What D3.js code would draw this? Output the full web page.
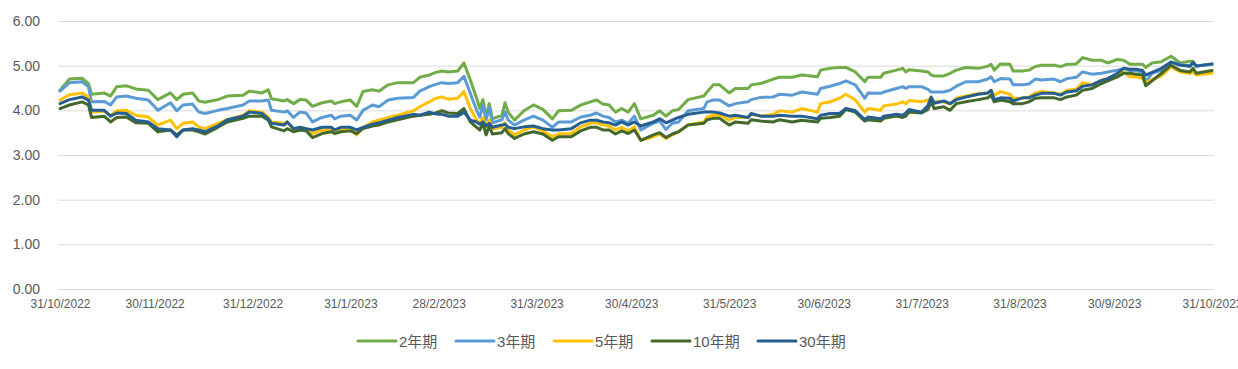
<!DOCTYPE html>
<html>
<head>
<meta charset="utf-8">
<script src="https://cdn.jsdelivr.net/npm/d3@7"></script>
<style>
  body { margin: 0; background: #fff; }
  text { font-family: "Liberation Sans", "Noto Sans CJK TC", sans-serif; fill: #595959; }
</style>
</head>
<body>
<div id="chart"></div>
<script>
// sample dates
var dates = [
  "2022-10-31","2022-11-03","2022-11-07","2022-11-09","2022-11-10","2022-11-14","2022-11-16","2022-11-18","2022-11-21","2022-11-24",
  "2022-11-28","2022-12-01","2022-12-05","2022-12-07","2022-12-09","2022-12-12","2022-12-14","2022-12-16","2022-12-20","2022-12-23",
  "2022-12-28","2022-12-30","2023-01-03","2023-01-05","2023-01-06","2023-01-10","2023-01-11","2023-01-13","2023-01-15","2023-01-17",
  "2023-01-19","2023-01-22","2023-01-25","2023-01-26","2023-01-28","2023-01-31","2023-02-02","2023-02-04","2023-02-07","2023-02-09",
  "2023-02-12","2023-02-15","2023-02-20","2023-02-22","2023-02-25","2023-02-27","2023-03-01","2023-03-03","2023-03-06","2023-03-08",
  "2023-03-10","2023-03-12","2023-03-13","2023-03-14","2023-03-15","2023-03-16","2023-03-17","2023-03-20","2023-03-21","2023-03-22",
  "2023-03-24","2023-03-27","2023-03-30","2023-04-02","2023-04-05","2023-04-07","2023-04-11","2023-04-14","2023-04-17","2023-04-19",
  "2023-04-21","2023-04-23","2023-04-25","2023-04-27","2023-04-29","2023-05-01","2023-05-03","2023-05-07","2023-05-09","2023-05-11",
  "2023-05-13","2023-05-15","2023-05-18","2023-05-23","2023-05-24","2023-05-26","2023-05-28","2023-05-31","2023-06-02","2023-06-06",
  "2023-06-07","2023-06-10","2023-06-14","2023-06-16","2023-06-20","2023-06-23","2023-06-28","2023-06-29","2023-07-02","2023-07-05",
  "2023-07-07","2023-07-10","2023-07-13","2023-07-14","2023-07-18","2023-07-19","2023-07-23","2023-07-25","2023-07-26","2023-07-27",
  "2023-07-31","2023-08-02","2023-08-03","2023-08-04","2023-08-07","2023-08-09","2023-08-11","2023-08-14","2023-08-18","2023-08-21",
  "2023-08-22","2023-08-23","2023-08-25","2023-08-28","2023-08-29","2023-09-01","2023-09-03","2023-09-05","2023-09-07","2023-09-11",
  "2023-09-13","2023-09-15","2023-09-18","2023-09-20","2023-09-23","2023-09-26","2023-09-28","2023-10-01","2023-10-03","2023-10-05",
  "2023-10-07","2023-10-09","2023-10-10","2023-10-12","2023-10-15","2023-10-18","2023-10-21","2023-10-24","2023-10-25","2023-10-26",
  "2023-10-31"
];

var y2 = [
  4.45,4.70,4.72,4.60,4.36,4.39,4.32,4.53,4.55,4.48,
  4.45,4.24,4.39,4.24,4.36,4.39,4.21,4.18,4.24,4.32,
  4.34,4.43,4.39,4.46,4.26,4.21,4.24,4.15,4.24,4.23,
  4.09,4.17,4.21,4.15,4.19,4.23,4.09,4.42,4.46,4.43,
  4.57,4.62,4.62,4.74,4.79,4.85,4.88,4.86,4.88,5.06,
  4.68,4.27,4.04,4.24,3.85,4.15,3.81,3.89,4.17,3.96,
  3.78,3.99,4.12,4.02,3.81,3.99,4.00,4.12,4.19,4.23,
  4.14,4.12,3.96,4.04,3.96,4.15,3.81,3.89,3.99,3.87,
  3.99,4.02,4.24,4.32,4.41,4.57,4.57,4.39,4.49,4.49,
  4.57,4.60,4.70,4.74,4.74,4.79,4.75,4.90,4.94,4.96,
  4.96,4.86,4.64,4.74,4.74,4.83,4.90,4.94,4.86,4.91,
  4.88,4.86,4.79,4.77,4.77,4.83,4.90,4.96,4.94,4.99,
  5.03,4.90,5.04,5.03,4.88,4.88,4.90,4.98,5.01,5.01,
  4.98,5.03,5.04,5.18,5.12,5.12,5.06,5.14,5.12,5.03,
  5.03,5.03,4.96,5.06,5.09,5.21,5.06,5.10,5.10,4.99,
  5.03
];

var y3 = [
  4.43,4.62,4.64,4.53,4.19,4.20,4.12,4.30,4.32,4.27,
  4.23,4.00,4.17,3.99,4.12,4.14,3.96,3.93,4.00,4.04,
  4.12,4.21,4.21,4.23,4.00,3.96,3.99,3.84,3.96,3.94,
  3.74,3.84,3.89,3.81,3.87,3.89,3.78,4.00,4.12,4.08,
  4.23,4.27,4.29,4.43,4.53,4.58,4.62,4.60,4.62,4.76,
  4.38,4.00,3.85,4.12,3.78,4.06,3.72,3.79,3.96,3.78,
  3.67,3.78,3.87,3.78,3.62,3.74,3.74,3.85,3.89,3.94,
  3.87,3.84,3.74,3.78,3.71,3.87,3.56,3.71,3.76,3.57,
  3.71,3.74,3.99,4.04,4.19,4.23,4.23,4.10,4.15,4.19,
  4.24,4.29,4.30,4.36,4.34,4.41,4.36,4.49,4.54,4.60,
  4.66,4.57,4.27,4.39,4.38,4.41,4.49,4.53,4.49,4.53,
  4.53,4.47,4.41,4.41,4.41,4.45,4.54,4.64,4.64,4.70,
  4.75,4.64,4.71,4.70,4.57,4.57,4.59,4.70,4.68,4.70,
  4.64,4.71,4.74,4.86,4.81,4.83,4.86,4.90,4.94,4.89,
  4.89,4.85,4.64,4.83,4.90,5.08,5.03,4.98,5.07,4.99,
  5.03
];

var y5 = [
  4.23,4.35,4.39,4.30,3.96,3.98,3.89,3.99,4.00,3.89,
  3.85,3.67,3.78,3.59,3.71,3.74,3.63,3.59,3.71,3.79,
  3.89,3.99,3.96,3.85,3.74,3.71,3.74,3.56,3.62,3.59,
  3.48,3.56,3.56,3.56,3.56,3.59,3.45,3.62,3.74,3.78,
  3.84,3.89,3.99,4.08,4.19,4.27,4.30,4.25,4.27,4.42,
  4.04,3.78,3.71,3.84,3.63,3.78,3.59,3.62,3.72,3.56,
  3.45,3.56,3.63,3.54,3.41,3.47,3.48,3.63,3.71,3.72,
  3.67,3.65,3.56,3.62,3.54,3.63,3.33,3.41,3.47,3.37,
  3.45,3.52,3.67,3.74,3.85,3.89,3.89,3.78,3.84,3.84,
  3.91,3.87,3.91,3.99,3.96,4.04,3.96,4.15,4.19,4.27,
  4.36,4.23,3.96,4.04,4.00,4.10,4.14,4.19,4.15,4.22,
  4.19,4.23,4.27,4.19,4.19,4.14,4.27,4.32,4.38,4.39,
  4.44,4.34,4.42,4.36,4.27,4.27,4.30,4.39,4.42,4.39,
  4.36,4.45,4.47,4.62,4.57,4.67,4.71,4.79,4.86,4.75,
  4.75,4.71,4.62,4.69,4.77,4.97,4.86,4.83,4.86,4.79,
  4.83
];

var y10 = [
  4.04,4.12,4.19,4.12,3.84,3.87,3.74,3.84,3.85,3.72,
  3.71,3.52,3.56,3.45,3.56,3.56,3.52,3.47,3.62,3.74,
  3.82,3.87,3.87,3.78,3.63,3.54,3.59,3.52,3.56,3.54,
  3.39,3.48,3.52,3.48,3.52,3.54,3.48,3.59,3.65,3.67,
  3.74,3.79,3.87,3.89,3.91,3.94,3.99,3.94,3.93,4.04,
  3.74,3.62,3.56,3.71,3.45,3.65,3.47,3.50,3.59,3.48,
  3.37,3.47,3.52,3.47,3.33,3.41,3.41,3.54,3.62,3.62,
  3.56,3.56,3.47,3.54,3.48,3.56,3.33,3.45,3.50,3.39,
  3.47,3.52,3.67,3.71,3.79,3.82,3.82,3.67,3.74,3.71,
  3.79,3.76,3.74,3.79,3.74,3.78,3.74,3.82,3.84,3.87,
  4.02,3.96,3.76,3.79,3.76,3.82,3.87,3.84,3.87,3.96,
  3.94,4.02,4.19,4.04,4.08,4.00,4.15,4.19,4.24,4.28,
  4.34,4.19,4.23,4.19,4.15,4.15,4.19,4.27,4.28,4.28,
  4.24,4.30,4.34,4.45,4.49,4.60,4.66,4.75,4.83,4.83,
  4.81,4.79,4.55,4.66,4.83,5.01,4.89,4.86,4.94,4.83,
  4.89
];

var y30 = [
  4.15,4.24,4.30,4.23,4.00,4.00,3.87,3.94,3.93,3.78,
  3.74,3.59,3.56,3.41,3.56,3.59,3.56,3.52,3.65,3.79,
  3.87,3.96,3.93,3.81,3.71,3.67,3.74,3.59,3.62,3.59,
  3.56,3.62,3.62,3.56,3.62,3.62,3.56,3.62,3.69,3.72,
  3.78,3.84,3.91,3.89,3.96,3.92,3.91,3.87,3.87,3.96,
  3.78,3.74,3.69,3.74,3.65,3.71,3.62,3.67,3.69,3.62,
  3.59,3.63,3.65,3.59,3.56,3.56,3.59,3.72,3.78,3.78,
  3.74,3.72,3.67,3.74,3.67,3.74,3.65,3.74,3.81,3.72,
  3.78,3.84,3.91,3.96,3.96,3.96,3.94,3.87,3.89,3.84,
  3.93,3.87,3.87,3.89,3.87,3.87,3.81,3.89,3.93,3.93,
  4.04,3.99,3.79,3.85,3.81,3.87,3.91,3.89,3.94,4.02,
  3.96,4.11,4.30,4.16,4.21,4.15,4.24,4.30,4.36,4.39,
  4.45,4.24,4.28,4.27,4.21,4.28,4.28,4.34,4.38,4.38,
  4.34,4.41,4.44,4.54,4.57,4.67,4.71,4.83,4.94,4.92,
  4.92,4.89,4.79,4.85,4.94,5.08,5.01,4.99,5.07,4.99,
  5.04
];

var seriesNames = ["2年期", "3年期", "5年期", "10年期", "30年期"];
var seriesColors = ["#70AD47", "#5B9BD5", "#FFC000", "#43682B", "#255E91"];
var seriesValues = [y2, y3, y5, y10, y30];

var xTicks = ["2022-10-31","2022-11-30","2022-12-31","2023-01-31","2023-02-28","2023-03-31",
              "2023-04-30","2023-05-31","2023-06-30","2023-07-31","2023-08-31","2023-09-30","2023-10-31"];
var yTicks = [0, 1, 2, 3, 4, 5, 6];

var W = 1238, H = 369;
var margin = {top: 21, right: 24, bottom: 80, left: 58},
    width = W - margin.left - margin.right,
    height = H - margin.top - margin.bottom;

var parse = d3.timeParse("%Y-%m-%d");
var dateObjs = dates.map(parse);

var svg = d3.select("#chart")
  .append("svg")
    .attr("width", W)
    .attr("height", H)
  .append("g")
    .attr("transform", "translate(" + margin.left + "," + margin.top + ")");

var x = d3.scaleTime()
  .domain([parse(xTicks[0]), parse(xTicks[xTicks.length - 1])])
  .range([2, width - 2]);

var y = d3.scaleLinear()
  .domain([0, 6])
  .range([height, 0]);

// gridlines
svg.append("g")
  .selectAll("line")
  .data(yTicks)
  .enter().append("line")
    .attr("x1", 0)
    .attr("x2", width)
    .attr("y1", function(d) { return y(d) + 0.5; })
    .attr("y2", function(d) { return y(d) + 0.5; })
    .attr("stroke", "#d9d9d9")
    .attr("stroke-width", 1);

// Y axis
var yAxis = svg.append("g")
  .call(d3.axisLeft(y).tickValues(yTicks).tickFormat(d3.format(".2f")).tickSize(0).tickPadding(18));
yAxis.select(".domain").remove();
yAxis.selectAll("text").attr("font-size", "14px").attr("font-family", "Liberation Sans").attr("fill", "#666");

// X axis
var fmt = function(d) { return d.getDate() + "/" + (d.getMonth() + 1) + "/" + d.getFullYear(); };
var xAxis = svg.append("g")
  .attr("transform", "translate(0," + height + ")")
  .call(d3.axisBottom(x).tickValues(xTicks.map(parse)).tickFormat(fmt).tickSize(0).tickPadding(10));
xAxis.select(".domain").remove();
xAxis.selectAll("text").attr("font-size", "12px").attr("font-family", "Liberation Sans").attr("fill", "#595959");

// lines
var line = d3.line()
  .x(function(d) { return x(d[0]); })
  .y(function(d) { return y(d[1]); });

seriesValues.forEach(function(vals, i) {
  svg.append("path")
    .datum(dateObjs.map(function(d, j) { return [d, vals[j]]; }))
    .attr("fill", "none")
    .attr("stroke", seriesColors[i])
    .attr("stroke-width", 3)
    .attr("stroke-linejoin", "round")
    .attr("stroke-linecap", "round")
    .attr("d", line);
});

// legend
var legendX = [358, 456, 554, 652, 758];
var legend = d3.select("svg").append("g").attr("transform", "translate(0,341)");
seriesNames.forEach(function(name, i) {
  legend.append("line")
    .attr("x1", legendX[i]).attr("x2", legendX[i] + 38)
    .attr("y1", 0).attr("y2", 0)
    .attr("stroke", seriesColors[i])
    .attr("stroke-width", 3)
    .attr("stroke-linecap", "round");
  legend.append("text")
    .attr("x", legendX[i] + 41)
    .attr("y", 5.5)
    .attr("font-size", "15px")
    .attr("font-family", "Liberation Sans, Noto Sans CJK TC")
    .attr("fill", "#595959")
    .text(name);
});
</script>
</body>
</html>
